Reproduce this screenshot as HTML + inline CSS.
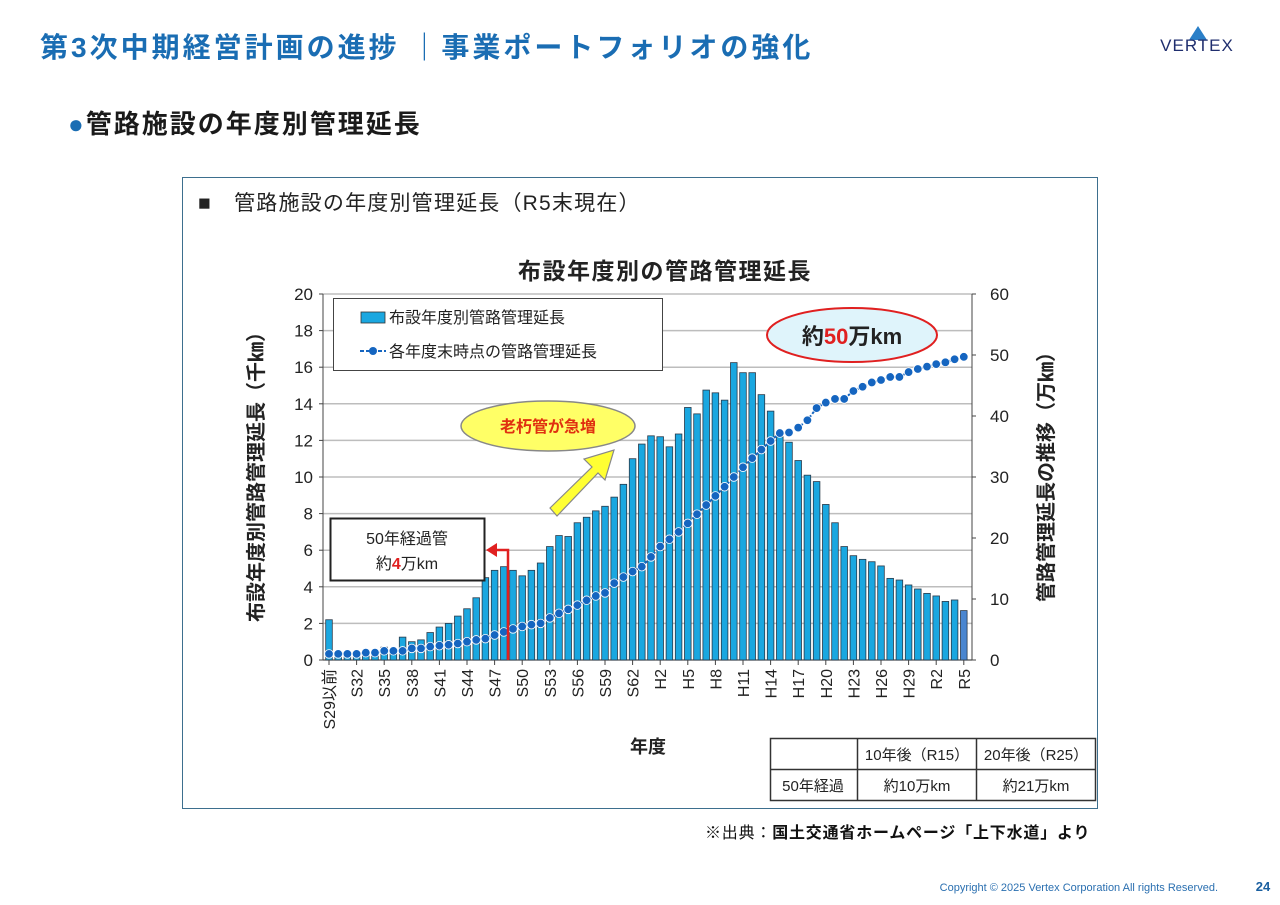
<!DOCTYPE html>
<html><head><meta charset="utf-8"><style>
body{margin:0;background:#fff;}
svg{display:block;font-family:"Liberation Sans","Noto Sans CJK JP",sans-serif;}
</style></head><body>
<svg id="pg" width="1280" height="905" viewBox="0 0 1280 905" xmlns="http://www.w3.org/2000/svg">
<text x="40" y="57" font-size="28" letter-spacing="3" font-weight="bold" fill="#1a6db3">第3次中期経営計画の進捗 ｜事業ポートフォリオの強化</text>
<g>
<polygon points="1198,26 1189,40 1207,40" fill="#2a7fc8"/>
<text x="1197" y="51" font-size="17" letter-spacing="1" fill="#1f2e6e" text-anchor="middle">VERTEX</text>
</g>
<text x="68" y="133" font-size="26" letter-spacing="2" font-weight="bold" fill="#1a1a1a"><tspan fill="#1a6db3">●</tspan>管路施設の年度別管理延長</text>
<rect x="182.5" y="177.5" width="915" height="631" fill="#fff" stroke="#3d6f8e" stroke-width="1"/>
<text x="198" y="210" font-size="21" letter-spacing="1.2" fill="#222">■　管路施設の年度別管理延長（R5末現在）</text>
<text x="665" y="279" font-size="23" letter-spacing="1.5" font-weight="bold" fill="#222" text-anchor="middle">布設年度別の管路管理延長</text>
<g id="plot"></g>
<text transform="translate(263,472) rotate(-90)" font-size="20" font-weight="bold" text-anchor="middle" fill="#222">布設年度別管路管理延長（千㎞）</text>
<text transform="translate(1053,472) rotate(-90)" font-size="20" font-weight="bold" text-anchor="middle" fill="#222">管路管理延長の推移（万㎞）</text>
<text x="648" y="753" font-size="18" font-weight="bold" text-anchor="middle" fill="#222">年度</text>
<g>
<rect x="333.5" y="298.5" width="329" height="72" fill="#fff" stroke="#444"/>
<rect x="361" y="312" width="24" height="11" fill="#1aa7e0" stroke="#333" stroke-width="0.8"/>
<text x="389" y="323" font-size="16" fill="#222">布設年度別管路管理延長</text>
<line x1="360" y1="351" x2="386" y2="351" stroke="#1565c0" stroke-width="2" stroke-dasharray="4,2"/>
<circle cx="373" cy="351" r="4" fill="#1565c0"/>
<text x="389" y="357" font-size="16" fill="#222">各年度末時点の管路管理延長</text>
</g>
<g>
<ellipse cx="852" cy="335" rx="85" ry="27" fill="#dff4fb" stroke="#e02020" stroke-width="2"/>
<text x="852" y="344" font-size="22" font-weight="bold" text-anchor="middle" fill="#222">約<tspan fill="#e02020">50</tspan>万km</text>
</g>
<g>
<ellipse cx="548" cy="426" rx="87" ry="25" fill="#ffff66" stroke="#888" stroke-width="1.5"/>
<text x="548" y="432" font-size="16" font-weight="bold" text-anchor="middle" fill="#e03010">老朽管が急増</text>
<polygon points="550,508 592,467 584,459 614,450 605,480 598,473 557,516" fill="#ffff33" stroke="#888" stroke-width="1.2"/>
</g>
<g>
<rect x="330.5" y="518.5" width="154" height="62" fill="#fff" stroke="#222" stroke-width="2"/>
<text x="407" y="544" font-size="16" text-anchor="middle" fill="#222">50年経過管</text>
<text x="407" y="569" font-size="16" text-anchor="middle" fill="#222">約<tspan fill="#e02020" font-weight="bold">4</tspan>万km</text>
<polyline points="508,660 508,550 494,550" fill="none" stroke="#e02020" stroke-width="2.5"/>
<polygon points="486,550 497,543 497,557" fill="#e02020"/>
</g>
<g font-size="15" fill="#222">
<rect x="770.5" y="738.5" width="325" height="62" fill="#fff" stroke="#333" stroke-width="1.5"/>
<line x1="770" y1="769.5" x2="1096" y2="769.5" stroke="#333" stroke-width="1.5"/>
<line x1="857.5" y1="738" x2="857.5" y2="801" stroke="#333" stroke-width="1.5"/>
<line x1="976.5" y1="738" x2="976.5" y2="801" stroke="#333" stroke-width="1.5"/>
<text x="917" y="760" text-anchor="middle">10年後（R15）</text>
<text x="1036" y="760" text-anchor="middle">20年後（R25）</text>
<text x="813" y="791" text-anchor="middle">50年経過</text>
<text x="917" y="791" text-anchor="middle">約10万km</text>
<text x="1036" y="791" text-anchor="middle">約21万km</text>
</g>
<text x="705" y="838" font-size="16" letter-spacing="0.8" fill="#111">※出典：<tspan font-weight="bold">国土交通省ホームページ「上下水道」より</tspan></text>
<text x="1218" y="891" font-size="11" fill="#2a6fb0" text-anchor="end">Copyright © 2025 Vertex Corporation All rights Reserved.</text>
<text x="1263" y="891" font-size="13" font-weight="bold" fill="#1a5fa0" text-anchor="middle">24</text>
</svg>
<script>
const categories=["S29以前","S30","S31","S32","S33","S34","S35","S36","S37","S38","S39","S40","S41","S42","S43","S44","S45","S46","S47","S48","S49","S50","S51","S52","S53","S54","S55","S56","S57","S58","S59","S60","S61","S62","S63","H1","H2","H3","H4","H5","H6","H7","H8","H9","H10","H11","H12","H13","H14","H15","H16","H17","H18","H19","H20","H21","H22","H23","H24","H25","H26","H27","H28","H29","H30","H31","R2","R3","R4","R5"];
const barValues=[2.2,0.2,0.3,0.3,0.4,0.5,0.7,0.6,1.25,1.0,1.1,1.5,1.8,2.0,2.4,2.8,3.4,4.5,4.9,5.1,4.9,4.6,4.9,5.3,6.2,6.8,6.75,7.5,7.8,8.15,8.4,8.9,9.6,11.0,11.8,12.25,12.2,11.65,12.35,13.8,13.45,14.75,14.6,14.2,16.25,15.7,15.7,14.5,13.6,12.2,11.9,10.9,10.1,9.75,8.5,7.5,6.2,5.7,5.5,5.37,5.14,4.46,4.37,4.1,3.88,3.64,3.5,3.2,3.28,2.7];
const cumValues=[1.0,1.0,1.0,1.0,1.2,1.2,1.5,1.5,1.5,1.9,1.9,2.2,2.35,2.5,2.7,3.0,3.3,3.5,4.1,4.6,5.1,5.5,5.8,6.0,6.9,7.65,8.3,9.0,9.8,10.5,11.0,12.6,13.6,14.5,15.3,16.9,18.6,19.8,21.0,22.4,23.9,25.4,26.9,28.4,30.0,31.6,33.1,34.5,35.9,37.2,37.3,38.1,39.3,41.3,42.2,42.8,42.8,44.1,44.8,45.5,45.9,46.4,46.4,47.2,47.7,48.1,48.5,48.8,49.3,49.7];
const leftTicks=[0,2,4,6,8,10,12,14,16,18,20];
const rightTicks=[0,10,20,30,40,50,60];
const NS="http://www.w3.org/2000/svg";
const g=document.getElementById('plot');
const X0=323,X1=972,Y0=660,Y1=294;
const step=9.2, first=329;
const xPos=i=>first+i*step;
const yL=v=>Y0-(v/20)*(Y0-Y1);
const yR=v=>Y0-(v/60)*(Y0-Y1);
function mk(t,a){const e=document.createElementNS(NS,t);for(const k in a)e.setAttribute(k,a[k]);g.appendChild(e);return e;}
leftTicks.forEach(v=>{
 const l=mk('line',{x1:X0,x2:X1,y1:yL(v),y2:yL(v),stroke:'#bdbdbd','stroke-width':1.5});
 
 
 const t=mk('text',{x:X0-10,y:yL(v)+6,'font-size':17,'text-anchor':'end',fill:'#222'});
 t.textContent=v;
 
 
 mk('line',{x1:X0-4,x2:X0,y1:yL(v),y2:yL(v),stroke:'#444'});
});
rightTicks.forEach(v=>{
 const t=mk('text',{x:X1+18,y:yR(v)+6,'font-size':17,fill:'#222'});
 t.textContent=v;
 
 
 mk('line',{x1:X1,x2:X1+4,y1:yR(v),y2:yR(v),stroke:'#444'});
});
mk('line',{x1:X0,x2:X0,y1:Y1,y2:Y0,stroke:'#444'});
mk('line',{x1:X1,x2:X1,y1:Y1,y2:Y0,stroke:'#444'});
mk('line',{x1:X0,x2:X1,y1:Y0,y2:Y0,stroke:'#444'});
barValues.forEach((v,i)=>{
 const r=mk('rect',{x:xPos(i)-3.3,y:yL(v),width:6.6,height:Y0-yL(v),fill:i===barValues.length-1?'#4a86d0':'#1aa7e0',stroke:'#2a3a4a','stroke-width':0.8});
 
 
});
categories.forEach((c,i)=>{
 if(i%3!==0)return;
 mk('line',{x1:xPos(i),x2:xPos(i),y1:Y0,y2:Y0+5,stroke:'#444'});
 const t=mk('text',{transform:`translate(${xPos(i)+6},${Y0+9}) rotate(-90)`,'font-size':16,'text-anchor':'end',fill:'#222'});
 t.textContent=c;
 
 
});
const pl=mk('polyline',{points:cumValues.map((v,i)=>xPos(i)+','+yR(v)).join(' '),fill:'none',stroke:'#1565c0','stroke-width':2,'stroke-dasharray':'4,2'});


cumValues.forEach((v,i)=>{
 const c=mk('circle',{cx:xPos(i),cy:yR(v),r:4.3,fill:'#1565c0',stroke:'#fff','stroke-width':0.8});
 
 
});
</script>
</body></html>
